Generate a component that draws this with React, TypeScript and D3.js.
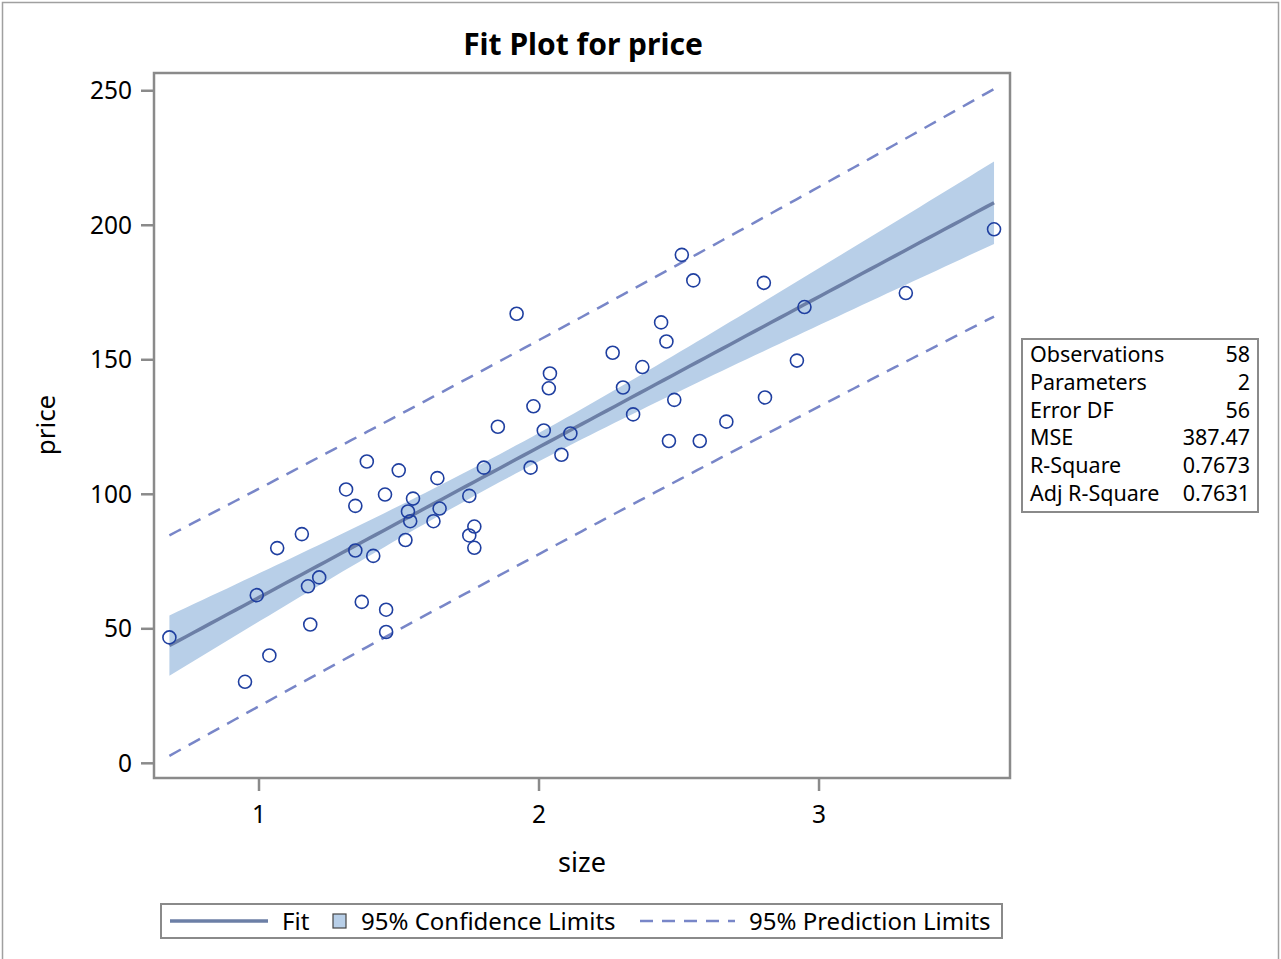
import React from 'react';
import * as d3 from 'd3';

// observed data (size in 1000 sq ft, price in $1000)
const sizes = [
  0.68, 0.95, 0.992, 1.037, 1.065, 1.153, 1.175, 1.183, 1.215, 1.311,
  1.344, 1.344, 1.367, 1.385, 1.408, 1.45, 1.454, 1.454, 1.499, 1.523,
  1.532, 1.54, 1.55, 1.623, 1.637, 1.645, 1.751, 1.751, 1.769, 1.769,
  1.803, 1.853, 1.92, 1.97, 1.98, 2.017, 2.035, 2.039, 2.08, 2.112,
  2.263, 2.3, 2.336, 2.369, 2.436, 2.455, 2.464, 2.483, 2.51, 2.551,
  2.574, 2.669, 2.803, 2.807, 2.921, 2.948, 3.31, 3.625,
];
const prices = [
  46.8, 30.3, 62.5, 40.1, 80.0, 85.2, 65.8, 51.6, 69.1, 101.8,
  95.7, 79.1, 60.0, 112.2, 77.1, 99.9, 57.1, 48.8, 108.9, 83.0,
  93.6, 90.0, 98.4, 90.0, 106.0, 94.7, 99.4, 84.7, 88.0, 80.1,
  109.9, 125.1, 167.1, 109.9, 132.7, 123.7, 139.4, 144.9, 114.7, 122.6,
  152.6, 139.7, 129.7, 147.3, 163.9, 156.8, 119.8, 135.1, 189.0, 179.5,
  119.8, 127.0, 178.6, 136.0, 149.7, 169.6, 174.8, 198.5,
];

const statLabels = ['Observations', 'Parameters', 'Error DF', 'MSE', 'R-Square', 'Adj R-Square'];
const statValues = ['58', '2', '56', '387.47', '0.7673', '0.7631'];

const xTicks = [1, 2, 3];
const yTicks = [0, 50, 100, 150, 200, 250];

const MSE = 387.47;
const T_CRIT = 2.0032; // t(0.975, 56)

const FONT = '"Noto Sans", "Open Sans", sans-serif';
const AXIS_GRAY = '#8a8a8a';
const MARKER = '#1f3fa0';
const FIT = '#6c7fa6';
const BAND = '#b8cfe8';
const PRED = '#7886c8';

export default function App() {
  const left = 154, right = 1010, top = 73, bottom = 778;
  const x = d3.scaleLinear().domain([0.625, 3.682]).range([left, right]);
  const y = d3.scaleLinear().domain([-5.46, 256.6]).range([bottom, top]);

  // least squares fit
  const n = sizes.length;
  const xbar = d3.mean(sizes)!;
  const ybar = d3.mean(prices)!;
  let sxx = 0, sxy = 0;
  sizes.forEach((xi, i) => {
    sxx += (xi - xbar) ** 2;
    sxy += (xi - xbar) * (prices[i] - ybar);
  });
  const b1 = sxy / sxx;
  const b0 = ybar - b1 * xbar;
  const s = Math.sqrt(MSE);

  const [xmin, xmax] = d3.extent(sizes) as [number, number];
  const grid = d3.range(0, 101).map(k => xmin + (xmax - xmin) * k / 100);
  const rows = grid.map(g => {
    const fit = b0 + b1 * g;
    const h = (g - xbar) ** 2 / sxx;
    const ci = T_CRIT * s * Math.sqrt(1 / n + h);
    const pi = T_CRIT * s * Math.sqrt(1 + 1 / n + h);
    return { g, fit, cl: fit - ci, cu: fit + ci, pl: fit - pi, pu: fit + pi };
  });

  const band = d3.area<typeof rows[0]>().x(d => x(d.g)).y0(d => y(d.cl)).y1(d => y(d.cu))(rows)!;
  const line = (key: 'fit' | 'pl' | 'pu') =>
    d3.line<typeof rows[0]>().x(d => x(d.g)).y(d => y(d[key]))(rows)!;

  return (
    <svg width={1281} height={959} style={{ position: 'absolute', left: 0, top: 0, display: 'block', background: '#fff' }}
      fontFamily={FONT}>
      <rect x={2.5} y={2.5} width={1276} height={980} fill="#fff" stroke="#a0a0a0" strokeWidth={1.5} />

      <text x={583} y={55} textAnchor="middle" fontSize={30} fontWeight="bold" fill="#000">Fit Plot for price</text>

      {/* plot content */}
      <path d={band} fill={BAND} />
      <path d={line('pu')} fill="none" stroke={PRED} strokeWidth={2.5} strokeDasharray="13,9" />
      <path d={line('pl')} fill="none" stroke={PRED} strokeWidth={2.5} strokeDasharray="13,9" />
      <path d={line('fit')} fill="none" stroke={FIT} strokeWidth={3.5} />
      {sizes.map((sv, i) => (
        <circle key={i} cx={x(sv)} cy={y(prices[i])} r={6.5} fill="none" stroke={MARKER} strokeWidth={1.6} />
      ))}

      <rect x={left} y={top} width={right - left} height={bottom - top} fill="none" stroke={AXIS_GRAY} strokeWidth={2.5} />

      {/* y axis */}
      {yTicks.map(t => (
        <g key={t}>
          <line x1={left - 13} x2={left} y1={y(t)} y2={y(t)} stroke={AXIS_GRAY} strokeWidth={2.5} />
          <text x={left - 22} y={y(t) + 8.5} textAnchor="end" fontSize={24.5} fill="#000">{t}</text>
        </g>
      ))}
      {/* x axis */}
      {xTicks.map(t => (
        <g key={t}>
          <line x1={x(t)} x2={x(t)} y1={bottom} y2={bottom + 13} stroke={AXIS_GRAY} strokeWidth={2.5} />
          <text x={x(t)} y={823} textAnchor="middle" fontSize={24.5} fill="#000">{t}</text>
        </g>
      ))}
      <text x={582} y={872} textAnchor="middle" fontSize={27} fill="#000">size</text>
      <text transform="translate(55,425) rotate(-90)" textAnchor="middle" fontSize={26} fill="#000">price</text>

      {/* stats inset */}
      <rect x={1022} y={339} width={236} height={173} fill="#fff" stroke={AXIS_GRAY} strokeWidth={2} />
      {statLabels.map((lab, i) => (
        <g key={lab}>
          <text x={1030} y={362 + i * 27.8} fontSize={21.5} fill="#000">{lab}</text>
          <text x={1250} y={362 + i * 27.8} textAnchor="end" fontSize={21.5} fill="#000">{statValues[i]}</text>
        </g>
      ))}

      {/* legend */}
      <rect x={161} y={904} width={841} height={34} fill="#fff" stroke={AXIS_GRAY} strokeWidth={2} />
      <line x1={170} x2={268} y1={921} y2={921} stroke={FIT} strokeWidth={3.5} />
      <text x={282} y={930} fontSize={24} fill="#000">Fit</text>
      <rect x={333} y={914} width={13} height={14} fill={BAND} stroke="#444" strokeWidth={1.2} />
      <text x={361} y={930} fontSize={24} fill="#000">95% Confidence Limits</text>
      <line x1={640} x2={735} y1={921} y2={921} stroke={PRED} strokeWidth={2.5} strokeDasharray="13,9" />
      <text x={749} y={930} fontSize={24} fill="#000">95% Prediction Limits</text>
    </svg>
  );
}
